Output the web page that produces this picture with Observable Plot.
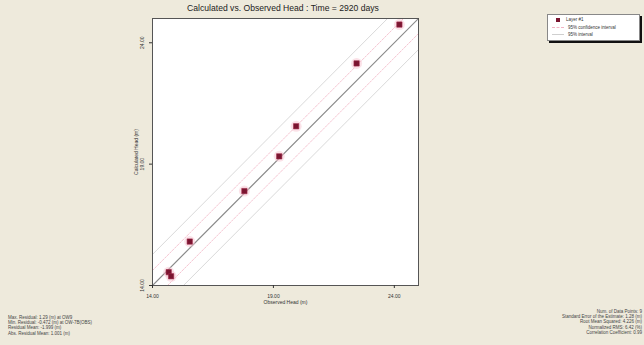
<!DOCTYPE html>
<html><head><meta charset="utf-8">
<script src="https://cdn.jsdelivr.net/npm/d3@7"></script>
<script src="https://cdn.jsdelivr.net/npm/@observablehq/plot@0.6"></script>
<style>
html,body{margin:0;padding:0;background:#eeeadc;}
#wrap{position:relative;width:644px;height:345px;background:#eeeadc;font-family:"Liberation Sans",Arial,sans-serif;overflow:hidden;}
.t{position:absolute;white-space:nowrap;color:#333;}
#title{left:0;width:566px;top:3px;text-align:center;font-size:8.6px;color:#222;}
#legend{position:absolute;left:547px;top:14px;width:91px;height:25px;background:#fff;border:1px solid #888;box-shadow:2px 2px 0 #111;font-size:4.5px;color:#333;}
.lrow{position:absolute;left:4px;height:7px;line-height:7px;}
.stats{font-size:4.5px;line-height:5.2px;color:#444;}
</style></head>
<body><div id="wrap">
<div id="title" class="t">Calculated vs. Observed Head : Time = 2920 days</div>
<div id="legend"></div>
<div id="statsL" class="t stats" style="left:8px;top:315px;"></div>
<div id="statsR" class="t stats" style="right:2px;top:309px;text-align:right;"></div>
</div>
<script>
const observed   = [24.21, 22.44, 19.94, 19.24, 17.80, 15.54, 14.67, 14.77];
const calculated = [24.75, 23.15, 20.56, 19.32, 17.89, 15.81, 14.55, 14.38];
const axisDomain = [14, 25];
const tickValues = [14, 19, 24];
const confOffsets = [-0.62, 0.62];
const intervalOffsets = [-1.28, 1.28];
const legendLabels = ["Layer #1", "95% confidence interval", "95% interval"];
const statsLeft = [
  "Max. Residual: 1.29 (m) at OW9",
  "Min. Residual: -0.472 (m) at OW-7B(OBS)",
  "Residual Mean: -1.999 (m)",
  "Abs. Residual Mean: 1.001 (m)"
];
const statsRight = [
  "Num. of Data Points: 9",
  "Standard Error of the Estimate: 1.28 (m)",
  "Root Mean Squared: 4.226 (m)",
  "Normalized RMS: 6.42 (%)",
  "Correlation Coefficient: 0.99"
];

const pts = observed.map((o, i) => ({o, c: calculated[i]}));
const bandLine = (off, key) => axisDomain.map(v => ({x: v, y: v + off, key}));
const confData = confOffsets.flatMap((o, i) => bandLine(o, "c" + i));
const intData = intervalOffsets.flatMap((o, i) => bandLine(o, "i" + i));
const idData = bandLine(0, "id");

const chart = Plot.plot({
  width: 644, height: 345,
  marginLeft: 152, marginRight: 226, marginTop: 18, marginBottom: 60,
  style: {background: "transparent", fontFamily: "Liberation Sans, Arial, sans-serif", fontSize: "5px", color: "#333"},
  x: {domain: axisDomain, ticks: tickValues, tickFormat: d3.format(".2f"), label: null},
  y: {domain: axisDomain, ticks: tickValues, tickFormat: d3.format(".2f"), label: null},
  marks: [
    Plot.frame({fill: "white", stroke: "none"}),
    Plot.line(intData, {x: "x", y: "y", z: "key", stroke: "#cfcfcf", strokeWidth: 0.8, clip: true}),
    Plot.line(confData, {x: "x", y: "y", z: "key", stroke: "#f2b4c4", strokeWidth: 0.8, strokeDasharray: "2,1.5", clip: true}),
    Plot.line(idData, {x: "x", y: "y", stroke: "#8a8a8a", strokeWidth: 1.2, clip: true}),
    Plot.dot(pts, {x: "o", y: "c", r: 5.5, fill: "#f7c6d2", fillOpacity: 0.5}),
    Plot.dot(pts, {x: "o", y: "c", symbol: "square", r: 3, fill: "#7a1530", stroke: "#a02848", strokeWidth: 0.6}),
    Plot.frame({stroke: "#555", strokeWidth: 1}),
    Plot.axisX({ticks: tickValues, tickFormat: d3.format(".2f"), tickSize: 3, fontSize: 5, label: null}),
    Plot.axisY({ticks: tickValues, tickFormat: d3.format(".2f"), tickSize: 3, tickRotate: -90, fontSize: 5, label: null}),
    Plot.axisX({anchor: "bottom", ticks: [], label: "Observed Head (m)", labelAnchor: "center", labelArrow: "none", labelOffset: 18, fontSize: 5}),
    Plot.axisY({anchor: "left", ticks: [], label: "Calculated Head (m)", labelAnchor: "center", labelArrow: "none", labelOffset: 18, fontSize: 5})
  ]
});
chart.style.position = "absolute";
chart.style.left = "0px";
chart.style.top = "0px";
document.getElementById("wrap").prepend(chart);

// legend
const lg = document.getElementById("legend");
legendLabels.forEach((lab, i) => {
  const row = document.createElement("div");
  row.className = "lrow";
  row.style.top = (1 + i * 7.5) + "px";
  let sym;
  if (i === 0) sym = '<span style="display:inline-block;width:4px;height:4px;background:#7a1530;margin:0 6px 0 4px;vertical-align:middle"></span>';
  else if (i === 1) sym = '<span style="display:inline-block;width:12px;border-top:1px dashed #f2b4c4;margin-right:4px;vertical-align:middle"></span>';
  else sym = '<span style="display:inline-block;width:12px;border-top:1px solid #cfcfcf;margin-right:4px;vertical-align:middle"></span>';
  row.innerHTML = sym + '<span style="vertical-align:middle">' + lab + '</span>';
  lg.appendChild(row);
});
document.getElementById("statsL").innerHTML = statsLeft.join("<br>");
document.getElementById("statsR").innerHTML = statsRight.join("<br>");
</script>
</body></html>
